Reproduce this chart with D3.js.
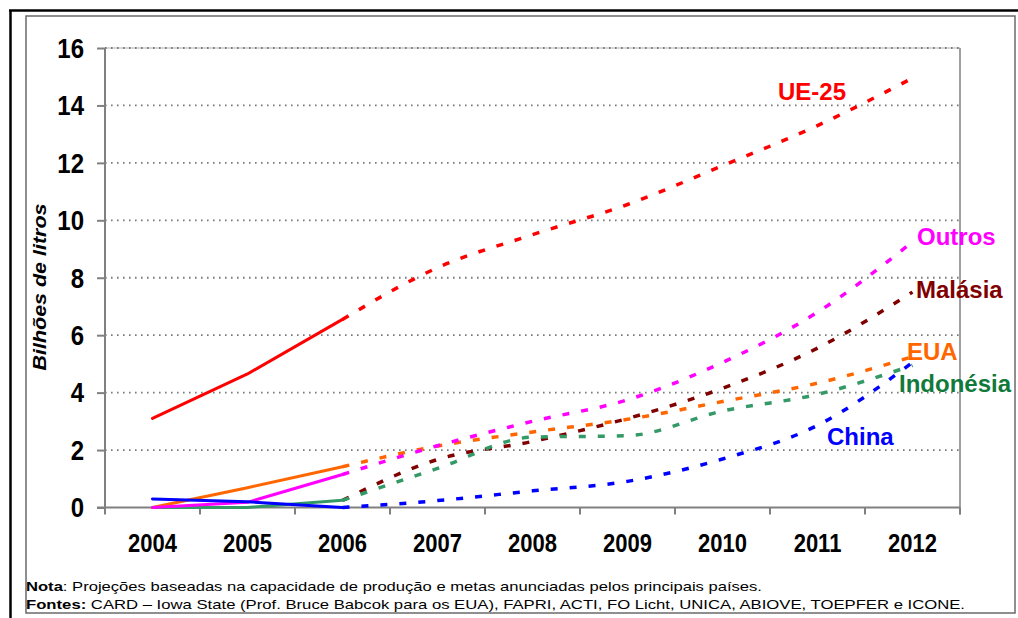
<!DOCTYPE html>
<html><head><meta charset="utf-8">
<script src="https://cdn.jsdelivr.net/npm/d3@7"></script>
<style>
body{margin:0;background:#fff}
svg{display:block}
text{font-family:"Liberation Sans",Arial,sans-serif}
</style>
</head><body>
<svg id="c" width="1018" height="618"></svg>
<script>
// ---------- data ----------
const years = ["2004","2005","2006","2007","2008","2009","2010","2011","2012"];
const actualYears = ["2004","2005","2006"];
const projYears = ["2006","2007","2008","2009","2010","2011","2012"];
const yTicks = [0,2,4,6,8,10,12,14,16];

const ue25Actual = [3.1, 4.65, 6.55];
const ue25Proj   = [6.55, 8.35, 9.5, 10.55, 11.9, 13.3, 14.95];
const outrosActual = [0, 0.18, 1.15];
const outrosProj   = [1.15, 2.15, 3.0, 3.75, 5.05, 6.8, 9.25];
const malasiaProj  = [0.25, 1.67, 2.3, 3.1, 4.15, 5.55, 7.5];
const euaActual = [0, 0.69, 1.42];
const euaProj   = [1.42, 2.14, 2.63, 3.07, 3.69, 4.33, 5.25];
const indonesiaActual = [0, 0, 0.25];
const indonesiaProj   = [0.25, 1.36, 2.45, 2.5, 3.36, 3.94, 4.95];
const chinaActual = [0.3, 0.2, 0.0];
const chinaProj   = [0.0, 0.24, 0.58, 0.91, 1.69, 2.86, 5.05];

const seriesNames = ["Malásia","Indonésia","EUA","Outros","China","UE-25"];
const seriesColors = ["#800000","#339966","#FF6600","#FF00FF","#0000FF","#FF0000"];
const labelColors  = ["#800000","#117a3a","#FF6600","#FF00FF","#0000FF","#FF0000"];
const seriesActual = [null, indonesiaActual, euaActual, outrosActual, chinaActual, ue25Actual];
const seriesProj   = [malasiaProj, indonesiaProj, euaProj, outrosProj, chinaProj, ue25Proj];

const axisTitle = "Bilhões de litros";
const noteBold = "Nota";
const noteText = ": Projeções baseadas na capacidade de produção e metas anunciadas pelos principais países.";
const srcBold = "Fontes:";
const srcText = " CARD – Iowa State (Prof. Bruce Babcok para os EUA), FAPRI, ACTI, FO Licht, UNICA, ABIOVE, TOEPFER e ICONE.";

// ---------- layout ----------
const svg = d3.select("#c");
const L = 105, R = 960, T = 48, B = 507.5;
const x = d3.scaleBand().domain(years).range([L, R]).paddingInner(0).paddingOuter(0);
const y = d3.scaleLinear().domain([0, 16]).range([B, T]);
const cx = d => x(d) + x.bandwidth() / 2;

// frames
svg.append("rect").attr("x",26).attr("y",16).attr("width",989).attr("height",597)
  .attr("fill","none").attr("stroke","#6a6a6a").attr("stroke-width",1.5);
svg.append("line").attr("x1",9).attr("x2",1018).attr("y1",10.5).attr("y2",10.5)
  .attr("stroke","#000").attr("stroke-width",2.5);
svg.append("line").attr("x1",10.5).attr("x2",10.5).attr("y1",10).attr("y2",618)
  .attr("stroke","#000").attr("stroke-width",2.5);

// gridlines
svg.append("line").attr("x1",L).attr("x2",R).attr("y1",y(16)).attr("y2",y(16))
  .attr("stroke","#b0b0b0").attr("stroke-width",1);
svg.append("g").selectAll("line").data(yTicks.filter(v => v > 0)).join("line")
  .attr("x1", L).attr("x2", R).attr("y1", d => y(d)).attr("y2", d => y(d))
  .attr("stroke", "#7a7a7a").attr("stroke-width", 1.8).attr("stroke-dasharray", "1.6,4.4");
// right border of plot
svg.append("line").attr("x1",R).attr("x2",R).attr("y1",T).attr("y2",B+7)
  .attr("stroke","#808080").attr("stroke-width",1.5);

// y axis
const yAxis = svg.append("g").attr("transform",`translate(${L},0)`)
  .call(d3.axisLeft(y).tickValues(yTicks).tickSize(8).tickFormat(""));
yAxis.selectAll("path,line").attr("stroke","#808080").attr("stroke-width",2);
yAxis.select(".domain").attr("d",`M0,${T}V${B}`);
svg.append("g").selectAll("text").data(yTicks).join("text")
  .attr("transform", d => `translate(84,${y(d)}) scale(1,1.14)`)
  .attr("dy","0.36em").attr("text-anchor","end")
  .attr("font-size",24).attr("font-weight","bold").attr("fill","#000")
  .text(d => d);

// x axis
const xAxis = svg.append("g").attr("transform",`translate(0,${B})`)
  .call(d3.axisBottom(x).tickSize(0).tickFormat(""));
xAxis.select(".domain").attr("d",`M${L-8},0H${R}`).attr("stroke","#808080").attr("stroke-width",2);
const bounds = years.map(d => x(d)).concat([R]);
svg.append("g").selectAll("line").data(bounds).join("line")
  .attr("x1", d => d).attr("x2", d => d).attr("y1", B).attr("y2", B + 7)
  .attr("stroke","#808080").attr("stroke-width",2);
svg.append("g").selectAll("text").data(years).join("text")
  .attr("transform", d => `translate(${cx(d)},552) scale(1,1.18)`)
  .attr("text-anchor","middle").attr("font-size",22).attr("font-weight","bold").attr("fill","#000")
  .text(d => d);

// y title
svg.append("text").attr("transform","translate(46,287) rotate(-90)")
  .attr("text-anchor","middle").attr("font-size",18).attr("font-weight","bold").attr("font-style","italic")
  .attr("textLength",167).attr("lengthAdjust","spacingAndGlyphs")
  .text(axisTitle);

// lines
const lineActual = d3.line().x(d => cx(d.year)).y(d => y(d.v)).curve(d3.curveLinear);
const lineProj = d3.line().x(d => cx(d.year)).y(d => y(d.v)).curve(d3.curveMonotoneX);
seriesNames.forEach((name, i) => {
  const a = seriesActual[i];
  if (a) {
    svg.append("path").datum(a.map((v, j) => ({year: actualYears[j], v})))
      .attr("d", lineActual).attr("fill","none").attr("stroke", seriesColors[i])
      .attr("stroke-width", 3).attr("stroke-linecap","round").attr("stroke-linejoin","round");
  }
  const p = seriesProj[i];
  svg.append("path").datum(p.map((v, j) => ({year: projYears[j], v})))
    .attr("d", lineProj).attr("fill","none").attr("stroke", seriesColors[i])
    .attr("stroke-width", 3.5).attr("stroke-dasharray","7,12");
});

// series labels
const labelPos = {
  "UE-25": [778, 100], "Outros": [917, 245], "Malásia": [916, 298],
  "EUA": [907, 360], "Indonésia": [899, 392], "China": [827, 445]
};
svg.append("g").selectAll("text").data(seriesNames).join("text")
  .attr("x", d => labelPos[d][0]).attr("y", d => labelPos[d][1])
  .attr("font-size", 24).attr("font-weight","bold")
  .attr("fill", (d, i) => labelColors[i])
  .text(d => d);

// footer
const f1 = svg.append("text").attr("x",26).attr("y",591).attr("font-size",13.5).attr("fill","#000")
  .attr("textLength",736).attr("lengthAdjust","spacingAndGlyphs");
f1.append("tspan").attr("font-weight","bold").text(noteBold);
f1.append("tspan").text(noteText);
const f2 = svg.append("text").attr("x",26).attr("y",609).attr("font-size",13.5).attr("fill","#000")
  .attr("textLength",939).attr("lengthAdjust","spacingAndGlyphs");
f2.append("tspan").attr("font-weight","bold").text(srcBold);
f2.append("tspan").text(srcText);
</script>
</body></html>
